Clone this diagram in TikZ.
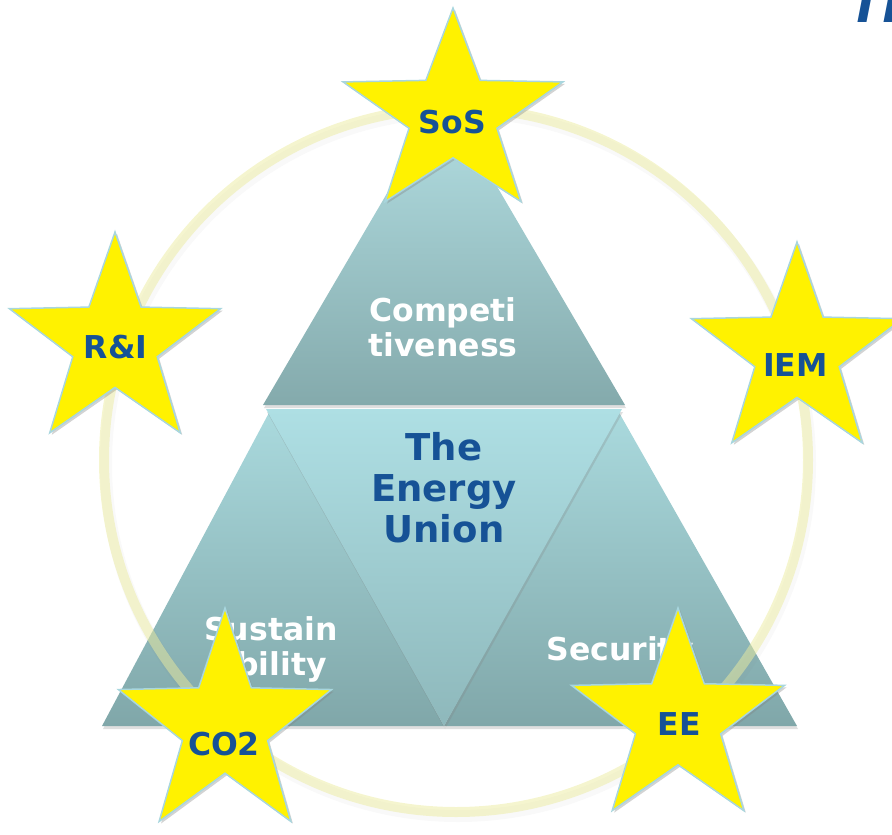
\documentclass[tikz,border=0pt]{standalone}
\usepackage{fontspec}
\setmainfont{DejaVu Sans}
\usetikzlibrary{shapes.geometric,shadows}
\definecolor{eublue}{RGB}{22,82,150}
\definecolor{starrim}{RGB}{168,214,222}
\definecolor{ringyellow}{RGB}{236,236,160}
\definecolor{toptophi}{RGB}{180,224,228}
\definecolor{toptoplo}{RGB}{132,170,172}
\definecolor{middlehi}{RGB}{174,223,228}
\definecolor{middlelo}{RGB}{142,184,187}
\definecolor{cornerhi}{RGB}{170,218,222}
\definecolor{cornerlo}{RGB}{128,167,169}
\begin{document}
\begin{tikzpicture}[x=1pt, y=-1pt,
    starbox/.style={star, star points=5, star point ratio=2.5, inner sep=0pt,
      fill=yellow, draw=starrim, line width=1.5pt,
      drop shadow={shadow xshift=2pt, shadow yshift=-2pt, opacity=0.35}},
    starlabel/.style={anchor=base, text=eublue, font=\bfseries\fontsize{31.5}{34}\selectfont},
    pillar/.style={anchor=base, text=white, align=center, font=\bfseries\fontsize{31.5}{34.5}\selectfont},
    panel/.style={drop shadow={shadow xshift=1pt, shadow yshift=-3pt, opacity=0.25}},
  ]
  \useasboundingbox (0, 0) rectangle (892, 835) ;

  \coordinate (apex) at (444, 96) ;
  \coordinate (topL) at (263, 405) ;
  \coordinate (topR) at (625, 405) ;
  \coordinate (midL) at (266, 409) ;
  \coordinate (midR) at (622, 409) ;
  \coordinate (midB) at (444, 726) ;
  \coordinate (leftT) at (271, 409) ;
  \coordinate (leftL) at (102, 726) ;
  \coordinate (rightT) at (617, 409) ;
  \coordinate (rightR) at (797, 726) ;

  \shade[panel, top color=cornerhi, bottom color=cornerlo] (leftT) -- (leftL) -- (midB) -- cycle ;
  \shade[panel, top color=cornerhi, bottom color=cornerlo] (rightT) -- (midB) -- (rightR) -- cycle ;
  \shade[panel, top color=middlehi, bottom color=middlelo] (midL) -- (midR) -- (midB) -- cycle ;
  \shade[panel, top color=toptophi, bottom color=toptoplo] (apex) -- (topL) -- (topR) -- cycle ;

  \node[pillar] (compet) at (443, 356) {Competi\\tiveness} ;
  \node[pillar] (sustain) at (271, 675) {Sustain\\ability} ;
  \node[pillar] (secur) at (620, 660) {Security} ;
  \node[anchor=base, text=eublue, align=center, font=\bfseries\fontsize{37}{41}\selectfont]
    (union) at (444, 542) {The\\Energy\\Union} ;

  \draw[gray, line width=12pt, opacity=0.05] (458, 464) circle (352) ;
  \draw[ringyellow, line width=10pt, opacity=0.5] (456, 460) circle (352) ;

  \node[starbox, minimum size=214pt, xscale=1.08, transform shape] (sos) at (453, 115) {} ;
  \node[starbox, minimum size=222pt] (ri) at (115, 343) {} ;
  \node[starbox, minimum size=222pt] (iem) at (797, 353) {} ;
  \node[starbox, minimum size=236pt, xscale=0.95, transform shape] (co2) at (225, 726) {} ;
  \node[starbox, minimum size=224pt] (ee) at (678, 720) {} ;

  \node[starlabel] (sosl) at (452.5, 133) {SoS} ;
  \node[starlabel] (ril) at (115.5, 358) {R\&I} ;
  \node[starlabel] (ieml) at (795.5, 376) {IEM} ;
  \node[starlabel] (co2l) at (224, 755) {CO2} ;
  \node[starlabel] (eel) at (679, 735) {EE} ;

  \node[anchor=base west, text=eublue, font=\bfseries\itshape\fontsize{48}{48}\selectfont]
    (title) at (846, 22) {Th} ;
\end{tikzpicture}
\end{document}
